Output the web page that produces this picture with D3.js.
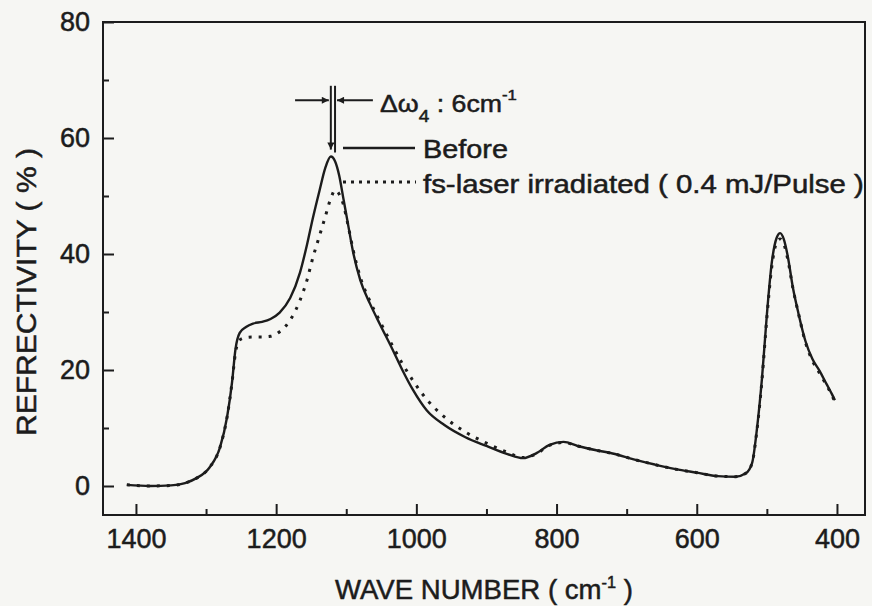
<!DOCTYPE html>
<html lang="en">
<head>
<meta charset="UTF-8">
<title>Refrectivity spectrum</title>
<style>
  body { margin: 0; background: #f6f6f3; }
  svg { display: block; font-family: 'Liberation Sans', Arial, sans-serif; }
  text { fill: #1c1c1c; stroke: #1c1c1c; stroke-width: 0.5px; }
</style>
</head>
<body>
<svg width="872" height="606"></svg>
<script src="https://d3js.org/d3.v7.min.js"></script>
<script>

// wave number grid (cm-1), shared by both spectra
var waveNumber = [1413, 1380, 1350, 1330, 1313, 1295, 1280, 1270, 1263, 1258, 1252, 1243, 1233, 1220, 1208,
  1195, 1180, 1166, 1156, 1148, 1138, 1130, 1122, 1116, 1110, 1104, 1098, 1090, 1080, 1066, 1052, 1035,
  1020, 1005, 985, 960, 930, 900, 870, 848, 828, 810, 790, 770, 745, 720, 690, 660, 630, 600, 570, 545,
  530, 521, 514, 507, 500, 493, 486, 481, 476, 470, 463, 455, 445, 435, 425, 415, 407, 403];

// refrectivity (%) before irradiation
var before = [0.2, 0.0, 0.1, 0.5, 1.4, 3.2, 6.7, 11.9, 17.8, 23.6, 26.4, 27.4, 28.0, 28.3, 28.8,
  29.9, 32.4, 36.8, 41.6, 46.0, 51.0, 54.8, 56.8, 56.0, 53.5, 49.5, 45.5, 40.2, 35.5, 31.4, 27.9, 23.8,
  20.0, 16.6, 13.0, 10.5, 8.4, 6.9, 5.5, 4.8, 5.7, 7.1, 7.6, 6.9, 6.2, 5.6, 4.6, 3.7, 2.9, 2.3, 1.7, 1.6,
  2.2, 4.0, 10.0, 18.5, 29.5, 38.5, 42.8, 43.6, 42.6, 39.5, 34.3, 29.8, 25.0, 21.9, 19.9, 17.6, 15.8, 14.8];

// refrectivity (%) after fs-laser irradiation (0.4 mJ/pulse)
var irradiated = [0.2, 0.0, 0.1, 0.5, 1.4, 3.2, 6.7, 11.9, 17.8, 23.0, 25.2, 25.6, 25.7, 25.7, 25.8,
  26.6, 28.6, 32.0, 35.5, 39.2, 43.2, 46.4, 49.6, 51.0, 50.3, 48.5, 45.3, 40.6, 36.0, 31.8, 28.4, 24.4,
  21.1, 18.2, 14.9, 11.9, 9.3, 7.4, 5.8, 4.9, 5.6, 7.0, 7.5, 6.9, 6.2, 5.6, 4.6, 3.7, 2.9, 2.3, 1.7, 1.6,
  2.2, 4.0, 9.8, 18.2, 29.0, 37.8, 42.0, 42.6, 41.8, 39.0, 34.2, 29.8, 24.8, 21.6, 19.5, 17.4, 15.6, 14.5];

var xMajor = [1400, 1200, 1000, 800, 600, 400];
var xMinor = [1300, 1100, 900, 700, 500];
var yMajor = [0, 20, 40, 60, 80];
var yMinor = [10, 30, 50, 70];

// peak positions of the main band, before / after (shift of 6 cm-1)
var peakBefore = 1122;
var peakAfter = 1116;

var svg = d3.select('svg');
var m = { l: 103, r: 865, t: 22, b: 515 };

var x = d3.scaleLinear().domain([1447, 360]).range([m.l, m.r]);
var y = d3.scaleLinear().domain([-5, 80]).range([m.b, m.t]);

var ink = '#1c1c1c';

// axes, ticks pointing inward
function styleAxis(g) {
  g.select('.domain').remove();
  g.selectAll('.tick line').attr('stroke', ink).attr('stroke-width', 2);
  g.selectAll('.tick text').attr('fill', ink).style('font-size', '27px');
}

svg.append('g')
  .attr('transform', 'translate(0,' + m.b + ')')
  .call(d3.axisBottom(x).tickValues(xMajor).tickSize(-11).tickPadding(14).tickFormat(d3.format('d')))
  .call(styleAxis);
svg.append('g')
  .attr('transform', 'translate(0,' + m.b + ')')
  .call(d3.axisBottom(x).tickValues(xMinor).tickSize(-6).tickFormat(''))
  .call(styleAxis);
svg.append('g')
  .attr('transform', 'translate(' + m.l + ',0)')
  .call(d3.axisLeft(y).tickValues(yMajor).tickSize(-11).tickPadding(13))
  .call(styleAxis);
svg.append('g')
  .attr('transform', 'translate(' + m.l + ',0)')
  .call(d3.axisLeft(y).tickValues(yMinor).tickSize(-6).tickFormat(''))
  .call(styleAxis);

// frame
svg.append('rect')
  .attr('x', m.l).attr('y', m.t)
  .attr('width', m.r - m.l).attr('height', m.b - m.t)
  .attr('fill', 'none').attr('stroke', ink).attr('stroke-width', 2);

// spectra
var line = d3.line()
  .x(function(d) { return x(d[0]); })
  .y(function(d) { return y(d[1]); })
  .curve(d3.curveMonotoneX);

svg.append('path')
  .datum(d3.zip(waveNumber, irradiated))
  .attr('d', line)
  .attr('fill', 'none')
  .attr('stroke', ink)
  .attr('stroke-width', 3)
  .attr('stroke-dasharray', '3,7');

svg.append('path')
  .datum(d3.zip(waveNumber, before))
  .attr('d', line)
  .attr('fill', 'none')
  .attr('stroke', ink)
  .attr('stroke-width', 2.4);

// arrowheads for the shift annotation
svg.append('defs').append('marker')
  .attr('id', 'head')
  .attr('viewBox', '0 0 10 10')
  .attr('refX', 10).attr('refY', 5)
  .attr('markerWidth', 9).attr('markerHeight', 7)
  .attr('markerUnits', 'userSpaceOnUse')
  .attr('orient', 'auto')
  .append('path')
  .attr('d', 'M0,0L10,5L0,10Z')
  .attr('fill', ink);

var ann = svg.append('g').attr('stroke', ink).attr('stroke-width', 2);
ann.append('line')
  .attr('x1', x(peakBefore)).attr('x2', x(peakBefore))
  .attr('y1', y(69)).attr('y2', y(58))
  .attr('marker-end', 'url(#head)');
ann.append('line')
  .attr('x1', x(peakAfter)).attr('x2', x(peakAfter))
  .attr('y1', y(69)).attr('y2', y(57.5));
ann.append('line')
  .attr('x1', x(1173)).attr('x2', x(peakBefore) - 2)
  .attr('y1', y(66.5)).attr('y2', y(66.5))
  .attr('marker-end', 'url(#head)');
ann.append('line')
  .attr('x1', x(1062)).attr('x2', x(peakAfter) + 2)
  .attr('y1', y(66.5)).attr('y2', y(66.5))
  .attr('marker-end', 'url(#head)');

// stretch a label group horizontally to a set width
function fit(g, w, tx, ty, rot) {
  var bw = g.node().getBBox().width;
  g.attr('transform', 'translate(' + tx + ',' + ty + ')' +
    (rot ? ' rotate(' + rot + ')' : '') + ' scale(' + (w / bw) + ',1)');
}

var shift = svg.append('g');
var st = shift.append('text').style('font-size', '24px');
st.append('tspan').text('\u0394\u03c9');
st.append('tspan').attr('dy', 10).style('font-size', '17px').text('4');
st.append('tspan').attr('dy', -10).text(' : 6cm');
st.append('tspan').attr('dy', -12).style('font-size', '15px').text('-1');
fit(shift, 137, 380, 112);

// legend
var legend = svg.append('g').attr('stroke', ink);
legend.append('line')
  .attr('x1', 343).attr('x2', 415).attr('y1', 148).attr('y2', 148)
  .attr('stroke-width', 2.4);
legend.append('line')
  .attr('x1', 343).attr('x2', 416).attr('y1', 182).attr('y2', 182)
  .attr('stroke-width', 3).attr('stroke-dasharray', '3,5');

var l1 = svg.append('g');
l1.append('text').style('font-size', '25px').text('Before');
fit(l1, 85, 423, 158);

var l2 = svg.append('g');
l2.append('text').style('font-size', '25px').text('fs-laser irradiated ( 0.4 mJ/Pulse )');
fit(l2, 441, 423, 193);

// axis titles
var xt = svg.append('g');
var xtt = xt.append('text').style('font-size', '27px');
xtt.append('tspan').text('WAVE NUMBER ( cm');
xtt.append('tspan').attr('dy', -11).style('font-size', '16px').text('-1');
xtt.append('tspan').attr('dy', 11).text(' )');
fit(xt, 298, 335, 599);

var yt = svg.append('g');
yt.append('text').attr('text-anchor', 'middle').attr('dy', '0.35em')
  .style('font-size', '28px').text('REFRECTIVITY ( % )');
fit(yt, 288, 26, 292, -90);

</script>
</body>
</html>
